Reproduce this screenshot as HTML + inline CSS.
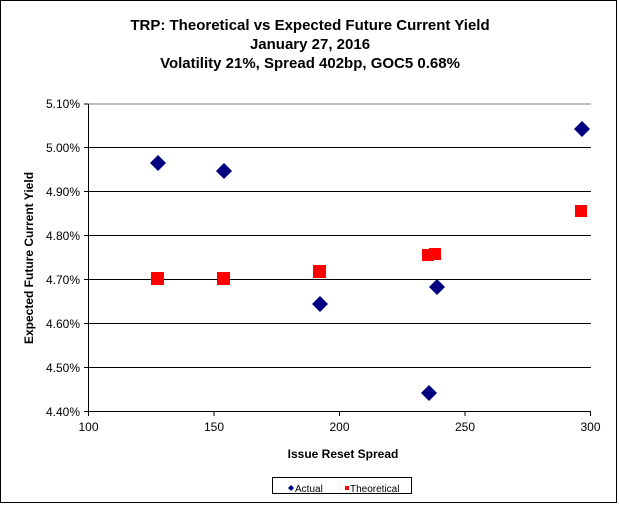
<!DOCTYPE html>
<html><head><style>
body{margin:0;background:#fff;}
svg text{font-family:"Liberation Sans",Arial,sans-serif;}
</style></head><body>
<svg width="619" height="509" xmlns="http://www.w3.org/2000/svg">
<rect x="0" y="0" width="619" height="509" fill="#fff"/>
<rect x="0.5" y="0.5" width="616" height="502" fill="#fff" stroke="#000" stroke-width="1"/>
<g font-weight="bold" font-size="15" text-anchor="middle" fill="#000">
<text x="310" y="30">TRP: Theoretical vs Expected Future Current Yield</text>
<text x="310" y="49">January 27, 2016</text>
<text x="310" y="68">Volatility  21%, Spread 402bp, GOC5 0.68%</text>
</g>
<g stroke="#000" stroke-width="1">
<line x1="88.5" y1="104" x2="591" y2="104" stroke="#808080"/>
<line x1="88.5" y1="147.5" x2="591" y2="147.5"/>
<line x1="88.5" y1="191.5" x2="591" y2="191.5"/>
<line x1="88.5" y1="235.5" x2="591" y2="235.5"/>
<line x1="88.5" y1="279.5" x2="591" y2="279.5"/>
<line x1="88.5" y1="323.5" x2="591" y2="323.5"/>
<line x1="88.5" y1="367.5" x2="591" y2="367.5"/>
<line x1="88.5" y1="411.5" x2="591" y2="411.5"/>
<line x1="88.5" y1="104" x2="88.5" y2="416"/>
<line x1="84" y1="104" x2="88.5" y2="104"/><line x1="84" y1="147.5" x2="88.5" y2="147.5"/><line x1="84" y1="191.5" x2="88.5" y2="191.5"/><line x1="84" y1="235.5" x2="88.5" y2="235.5"/><line x1="84" y1="279.5" x2="88.5" y2="279.5"/><line x1="84" y1="323.5" x2="88.5" y2="323.5"/><line x1="84" y1="367.5" x2="88.5" y2="367.5"/><line x1="84" y1="411.5" x2="88.5" y2="411.5"/>
<line x1="214" y1="411.5" x2="214" y2="416"/><line x1="339.5" y1="411.5" x2="339.5" y2="416"/><line x1="465" y1="411.5" x2="465" y2="416"/><line x1="590.5" y1="411.5" x2="590.5" y2="416"/>
</g>
<g font-size="12" text-anchor="end" fill="#000">
<text x="80" y="108">5.10%</text><text x="80" y="152">5.00%</text><text x="80" y="196">4.90%</text><text x="80" y="240">4.80%</text><text x="80" y="284">4.70%</text><text x="80" y="328">4.60%</text><text x="80" y="372">4.50%</text><text x="80" y="416">4.40%</text>
</g>
<g font-size="12" text-anchor="middle" fill="#000">
<text x="88.5" y="431">100</text><text x="214" y="431">150</text><text x="339.5" y="431">200</text><text x="465" y="431">250</text><text x="590.5" y="431">300</text>
</g>
<text x="343" y="458" font-size="12" font-weight="bold" text-anchor="middle">Issue Reset Spread</text>
<text transform="translate(33,258) rotate(-90)" font-size="12" font-weight="bold" text-anchor="middle">Expected Future Current Yield</text>
<g fill="#000080">
<polygon points="158,155 166,163 158,171 150,163"/>
<polygon points="224,163 232,171 224,179 216,171"/>
<polygon points="320,296 328,304 320,312 312,304"/>
<polygon points="429,385 437,393 429,401 421,393"/>
<polygon points="437,279 445,287 437,295 429,287"/>
<polygon points="582,121 590,129 582,137 574,129"/>
</g>
<g fill="#ff0000">
<rect x="151" y="272" width="13" height="13"/>
<rect x="217" y="272" width="13" height="13"/>
<rect x="313" y="265" width="13" height="13"/>
<rect x="422" y="249" width="12" height="12"/>
<rect x="429" y="248" width="12" height="12"/>
<rect x="575" y="205" width="12" height="12"/>
</g>
<rect x="272.5" y="477.5" width="139" height="16" fill="#fff" stroke="#000"/>
<polygon points="291,485 294,488 291,491 288,488" fill="#000080"/>
<text x="295" y="492" font-size="10">Actual</text>
<rect x="345" y="486" width="4" height="4" fill="#ff0000"/>
<text x="350" y="492" font-size="10">Theoretical</text>
</svg>
</body></html>
